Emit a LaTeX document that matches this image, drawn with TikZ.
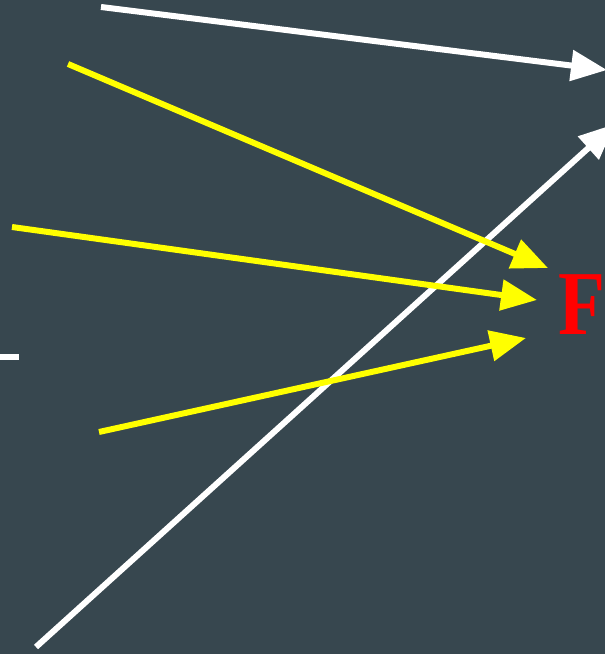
\documentclass[tikz,border=0pt]{standalone}
\usepackage{fontspec}
\usepackage{xcolor}
\usepackage{tikz}
\usetikzlibrary{arrows.meta, positioning}
\setmainfont{Liberation Serif}
\definecolor{pozadi}{HTML}{37474F}
\definecolor{sila}{HTML}{FFFF00}

\begin{document}
\begin{tikzpicture}[>={Triangle[length=0.72cm, width=0.6cm]}, line width=0.12cm]
  \tikzset{
    paprsek/.style={white, ->},
    vektor/.style={sila, ->},
    popis/.style={font=\fontsize{52}{52}\selectfont\bfseries, xscale=0.84, transform shape, inner sep=0pt, anchor=base west},
  }

  % Pozadí a rozměry obrázku
  \fill[pozadi] (0, 0) rectangle (12.1, 13.08);
  \useasboundingbox (0, 0) rectangle (12.1, 13.08);

  % Body
  \coordinate (a1) at (2.02, 12.94);
  \coordinate (a2) at (12.14, 11.68);
  \coordinate (b1) at (0.72, 0.14);
  \coordinate (b2) at (12.30, 10.60);
  \coordinate (s1) at (1.36, 11.80);
  \coordinate (t1) at (10.96, 7.72);
  \coordinate (s2) at (0.24, 8.54);
  \coordinate (t2) at (10.74, 7.08);
  \coordinate (s3) at (1.98, 4.44);
  \coordinate (t3) at (10.52, 6.32);
  \coordinate (c1) at (0, 5.94);
  \coordinate (c2) at (0.38, 5.94);

  % Bílé paprsky
  \draw[paprsek] (a1) -- (a2);
  \draw[paprsek] (b1) -- (b2);
  \draw[white, line width=0.13cm] (c1) -- (c2);

  % Žluté síly
  \draw[vektor] (s1) -- (t1);
  \draw[vektor] (s2) -- (t2);
  \draw[vektor] (s3) -- (t3);

  % Popis
  \node[popis, red] (F) at (11.12, 6.38) {F};

\end{tikzpicture}
\end{document}
